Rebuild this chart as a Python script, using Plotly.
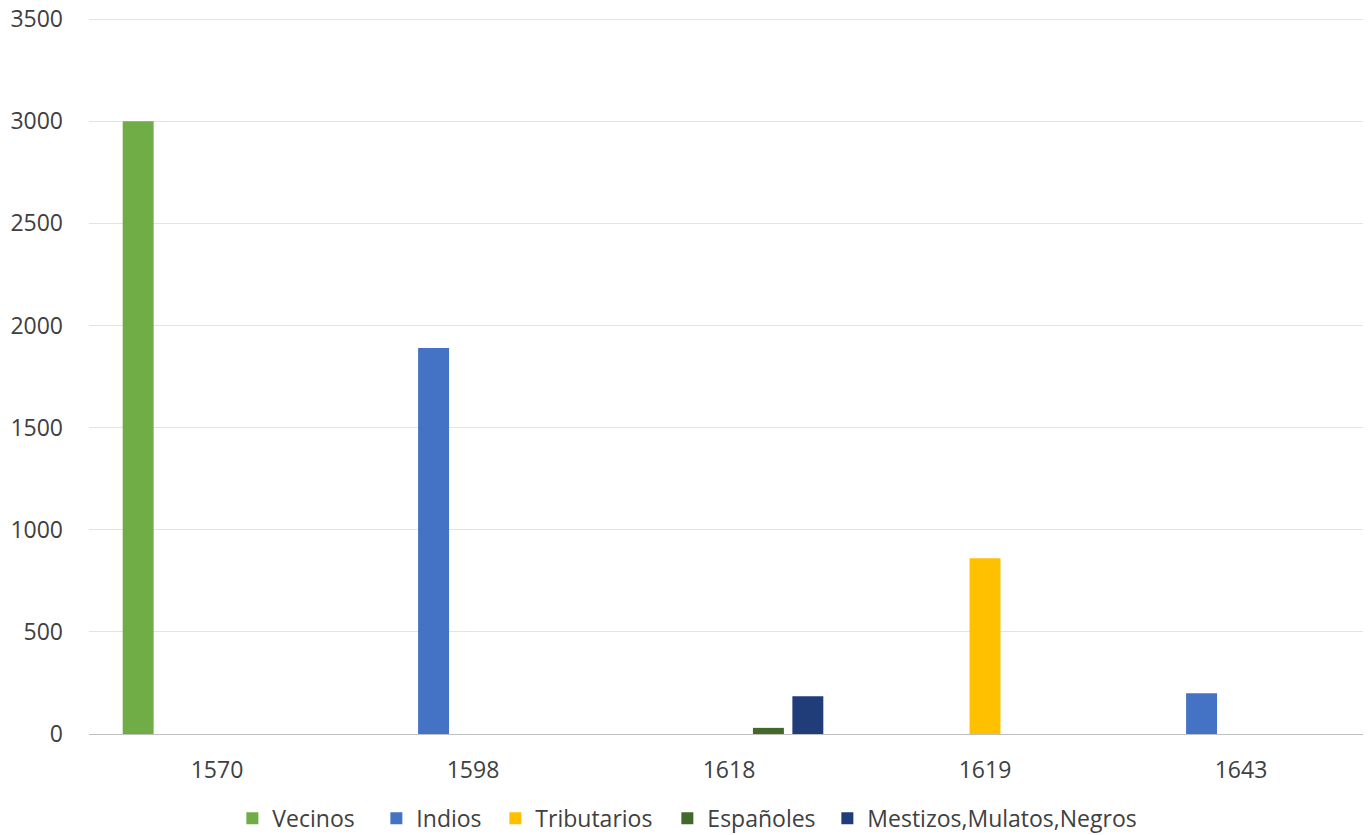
import plotly.graph_objects as go

years = ["1570", "1598", "1618", "1619", "1643"]
series_names = ["Vecinos", "Indios", "Tributarios", "Españoles", "Mestizos,Mulatos,Negros"]
vecinos = [3000, None, None, None, None]
indios = [None, 1890, None, None, 200]
tributarios = [None, None, None, 860, None]
espanoles = [None, None, 30, None, None]
mestizos = [None, None, 185, None, None]
colors = ["#70AD47", "#4472C4", "#FFC000", "#43682B", "#203D7A"]
legend_widths = [99, 74, 127, 115, 275]
y_ticks = [0, 500, 1000, 1500, 2000, 2500, 3000, 3500]

fig = go.Figure()
for name, vals, col, lw in zip(series_names, [vecinos, indios, tributarios, espanoles, mestizos], colors, legend_widths):
    fig.add_trace(go.Bar(x=years, y=vals, name=name, legendwidth=lw,
                         marker=dict(color=col, line=dict(width=0))))

font_family = "Open Sans"
# the page body has an 8px margin, so the figure is 8px smaller than the window
fig.update_layout(
    width=1363, height=827,
    margin=dict(l=81, r=2, t=9, b=101, autoexpand=False),
    paper_bgcolor="white", plot_bgcolor="white",
    barmode="group", bargap=0.23, bargroupgap=0.215,
    font=dict(family=font_family, size=23, color="#404040"),
    showlegend=True,
    legend=dict(orientation="h", x=0.112, xanchor="left", y=-0.1175, yanchor="middle",
                font=dict(size=23, color="#404040"), itemwidth=30, traceorder="normal"),
    xaxis=dict(type="category", showgrid=False, showline=False, ticks="", automargin=False,
               ticklabelstandoff=20, tickfont=dict(size=23, color="#404040")),
    yaxis=dict(range=[0, 3510], tickvals=y_ticks, ticktext=[str(v) for v in y_ticks],
               showgrid=True, gridcolor="#e3e3e3", gridwidth=1, automargin=False,
               zeroline=True, zerolinecolor="#bfbfbf", zerolinewidth=1,
               showline=False, ticks="", ticklabelstandoff=25, ticklabeloverflow="allow",
               tickfont=dict(size=23, color="#404040")),
)

fig.write_html("out.html")
